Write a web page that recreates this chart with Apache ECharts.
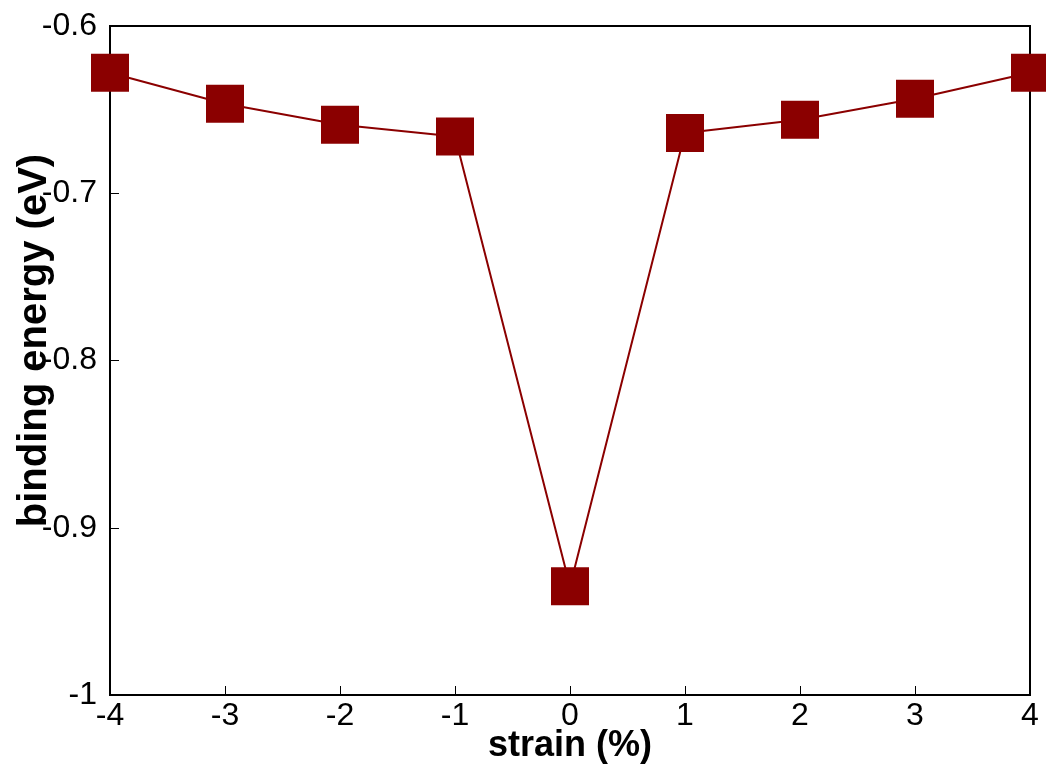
<!DOCTYPE html>
<html>
<head>
<meta charset="utf-8">
<script src="https://cdn.jsdelivr.net/npm/echarts@6/dist/echarts.min.js"></script>
<style>html,body{margin:0;padding:0;background:#fff}#c{width:1046px;height:765px}</style>
</head>
<body>
<div id="c"></div>
<script>
const strain = [-4, -3, -2, -1, 0, 1, 2, 3, 4];
const bindingEnergy = [-0.628, -0.6465, -0.659, -0.666, -0.935, -0.664, -0.656, -0.6435, -0.628];
const xTicks = [-4, -3, -2, -1, 0, 1, 2, 3, 4];
const yTicks = [-1, -0.9, -0.8, -0.7, -0.6];

const chart = echarts.init(document.getElementById('c'));
chart.setOption({
  animation: false,
  backgroundColor: '#fff',
  grid: { left: 110, right: 16, top: 26, bottom: 70, outerBoundsMode: 'none', containLabel: false,
    show: true, borderColor: '#000', borderWidth: 2, backgroundColor: 'transparent' },
  xAxis: {
    type: 'value', min: -4, max: 4, interval: 1,
    name: 'strain (%)', nameLocation: 'middle', nameGap: 33, nameMoveOverlap: false,
    nameTextStyle: { fontFamily: 'Liberation Sans', fontWeight: 'bold', fontSize: 36, color: '#000' },
    axisLine: { show: true, onZero: false, lineStyle: { color: '#000', width: 2 } },
    axisTick: { show: true, inside: true, length: 9, lineStyle: { color: '#000', width: 1 } },
    axisLabel: { fontFamily: 'Liberation Sans', fontSize: 32, color: '#000', margin: 5,
      formatter: v => xTicks.includes(v) ? String(v) : '' },
    splitLine: { show: false }
  },
  yAxis: {
    type: 'value', min: -1, max: -0.6, interval: 0.1,
    name: 'binding energy (eV)', nameLocation: 'middle', nameGap: 55, nameRotate: 90, nameMoveOverlap: false,
    nameTextStyle: { fontFamily: 'Liberation Sans', fontWeight: 'bold', fontSize: 40, color: '#000', padding: [0, 0, 0, 40] },
    axisLine: { show: true, onZero: false, lineStyle: { color: '#000', width: 2 } },
    axisTick: { show: true, inside: true, length: 9, lineStyle: { color: '#000', width: 1 } },
    axisLabel: { fontFamily: 'Liberation Sans', fontSize: 32, color: '#000', margin: 13,
      formatter: v => { const r = Math.round(v * 10) / 10; return yTicks.some(t => Math.abs(t - r) < 1e-9) ? String(r) : ''; } },
    splitLine: { show: false }
  },
  series: [{
    type: 'line',
    data: strain.map((x, i) => [x, bindingEnergy[i]]),
    clip: false,
    symbol: 'rect',
    symbolSize: 38,
    itemStyle: { color: '#8b0000' },
    lineStyle: { color: '#8b0000', width: 2 },
    z: 3
  }]
});
</script>
</body>
</html>
